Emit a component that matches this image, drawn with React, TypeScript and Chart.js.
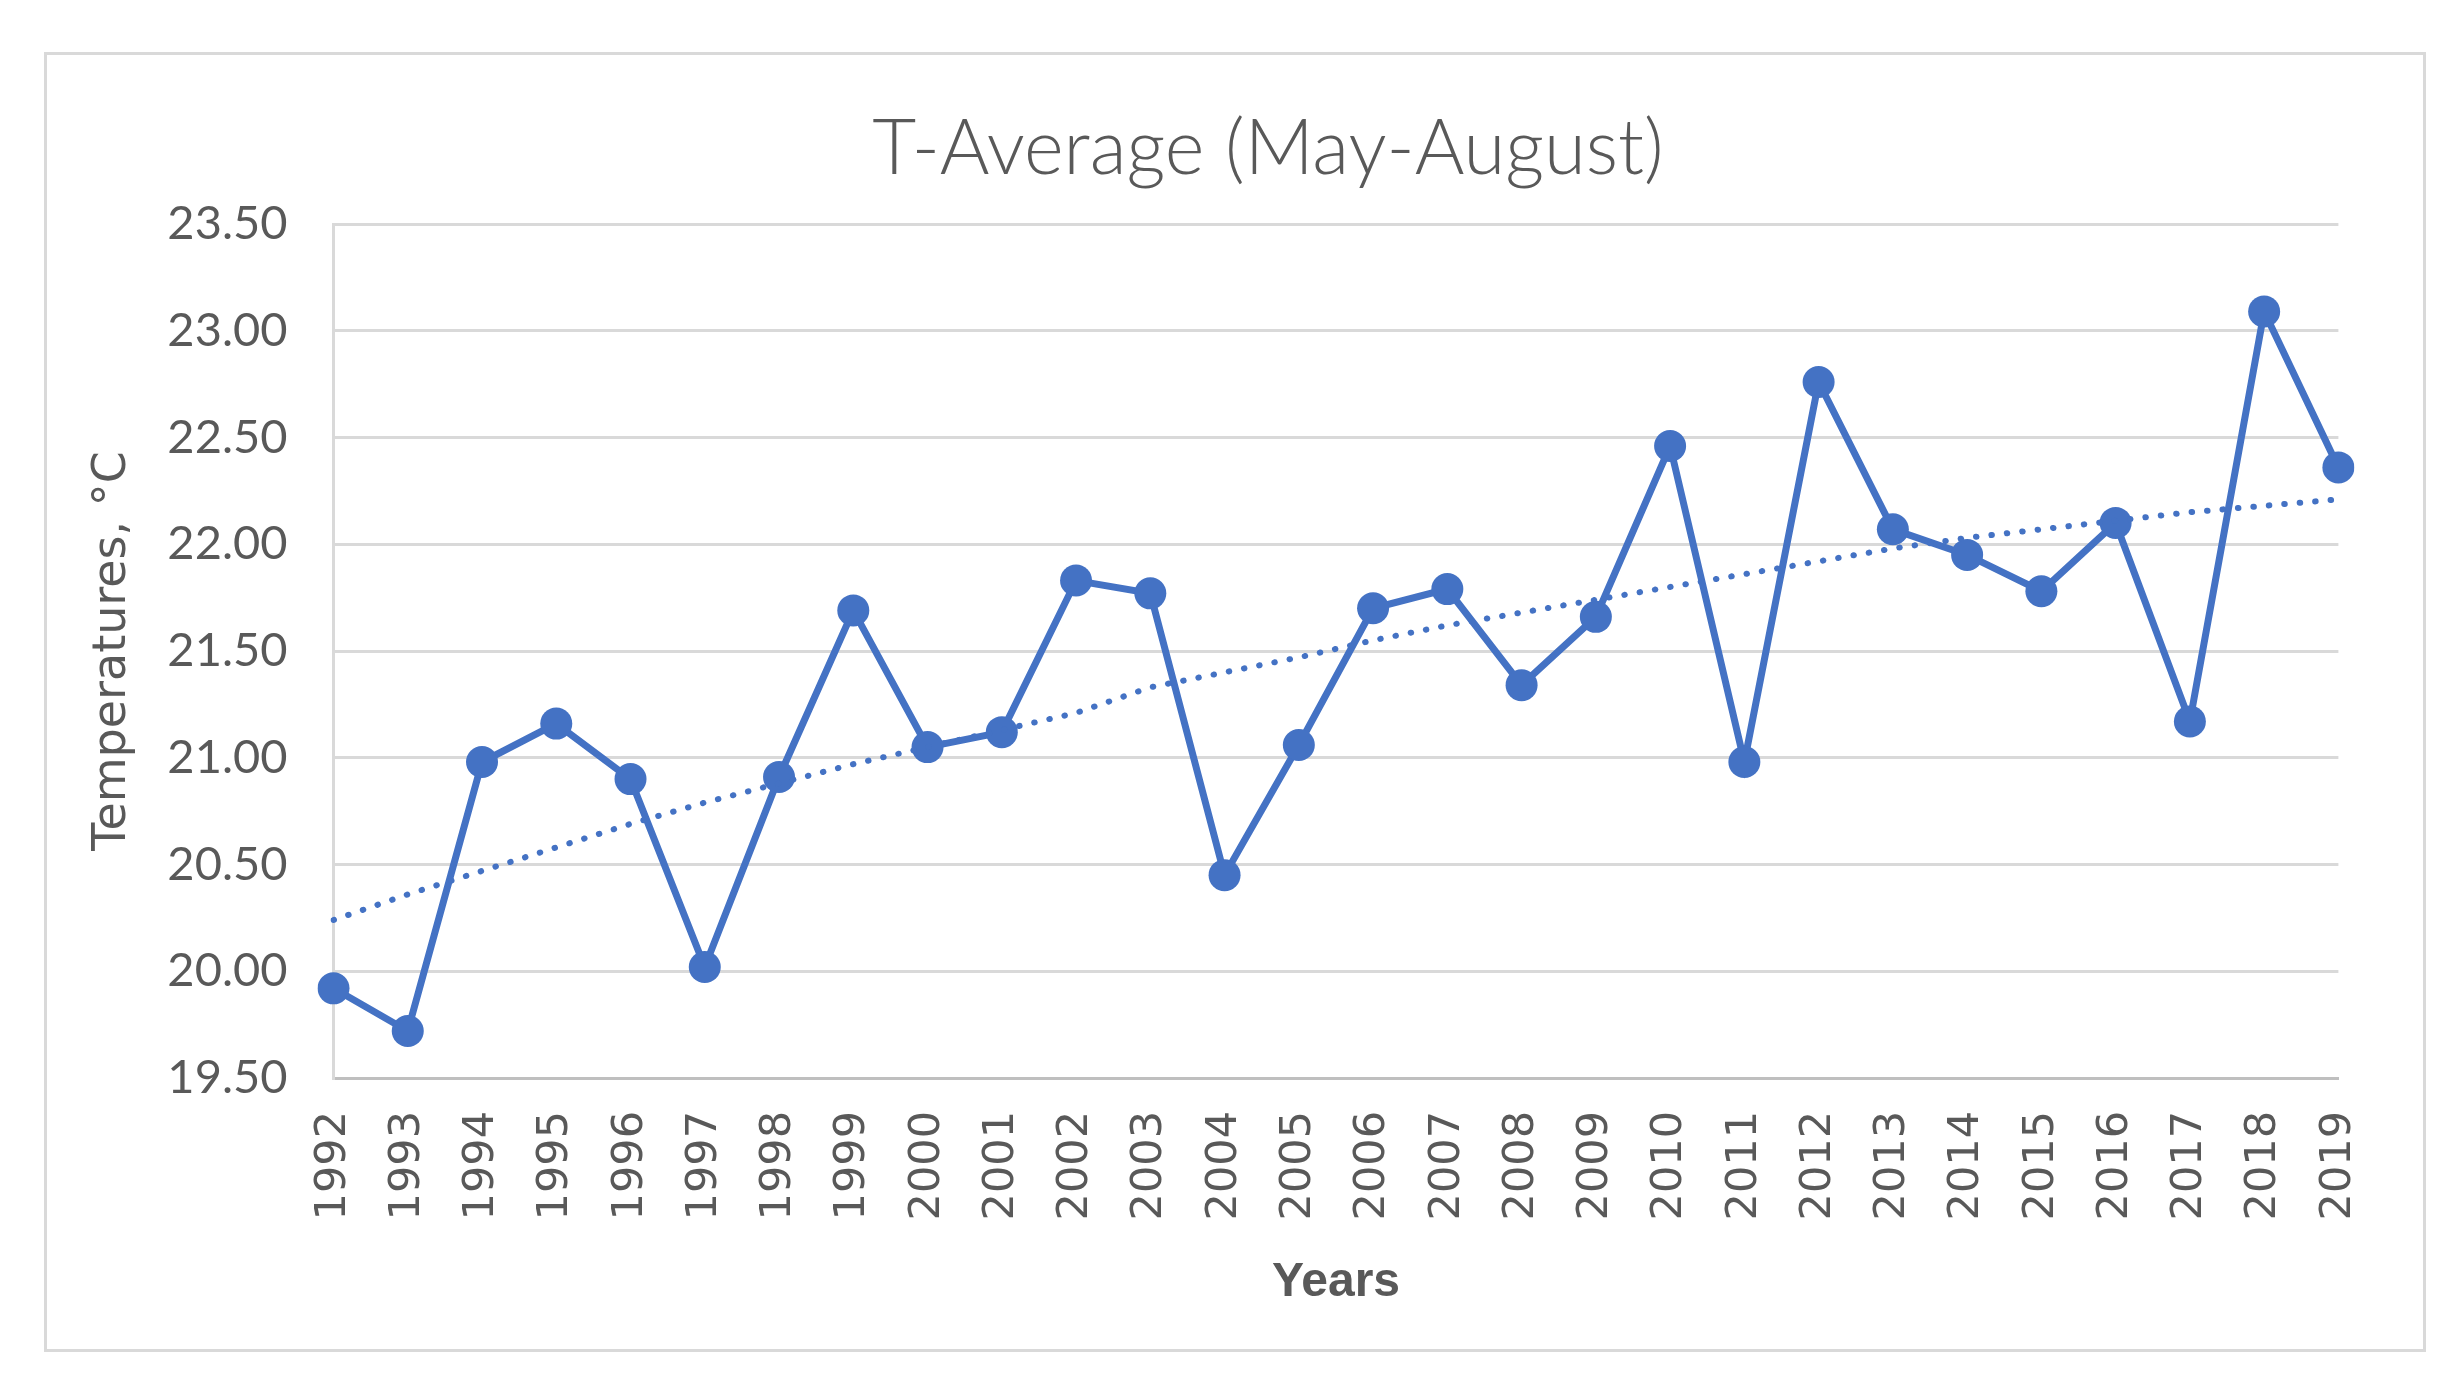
import React, { useEffect, useRef } from "react";
import { Chart, registerables } from "chart.js";

Chart.register(...registerables);

const years = [
  "1992", "1993", "1994", "1995", "1996", "1997", "1998", "1999", "2000", "2001",
  "2002", "2003", "2004", "2005", "2006", "2007", "2008", "2009", "2010", "2011",
  "2012", "2013", "2014", "2015", "2016", "2017", "2018", "2019",
];

const tAverage = [
  19.92, 19.72, 20.98, 21.16, 20.9, 20.02, 20.91, 21.69, 21.05, 21.12,
  21.83, 21.77, 20.45, 21.06, 21.7, 21.79, 21.34, 21.66, 22.46, 20.98,
  22.76, 22.07, 21.95, 21.78, 22.1, 21.17, 23.09, 22.36,
];

const trend = [
  20.24, 20.36, 20.47, 20.58, 20.69, 20.79, 20.88, 20.97, 21.05, 21.13,
  21.21, 21.33, 21.4, 21.47, 21.55, 21.62, 21.68, 21.74, 21.8, 21.86,
  21.92, 21.98, 22.03, 22.07, 22.11, 22.15, 22.18, 22.21,
];

const yMin = 19.5;
const yMax = 23.5;
const yStep = 0.5;

const chartTitle = "T-Average (May-August)";
const xTitle = "Years";
const yTitle = "Temperatures, °C";

const BLUE = "#4472C4";
const TEXT = "#595959";
const GRID = "#D9D9D9";

const CW = 2376;
const CH = 1294;
const PAD_LEFT = 66;
const PLOT_LEFT = 286.5;
const PLOT_BOTTOM = 1023;
const RIGHT_GAP = 80;

export default function App() {
  const ref = useRef<HTMLCanvasElement | null>(null);

  useEffect(() => {
    if (!ref.current) return;
    const chart = new Chart(ref.current, {
      type: "line",
      data: {
        labels: years,
        datasets: [
          {
            label: "Linear (T-Average)",
            data: trend,
            borderColor: BLUE,
            borderWidth: 6,
            borderDash: [0.5, 15],
            borderCapStyle: "round",
            pointRadius: 0,
            pointHoverRadius: 0,
            fill: false,
            tension: 0,
            order: 0,
          },
          {
            label: "T-Average",
            data: tAverage,
            borderColor: BLUE,
            backgroundColor: BLUE,
            borderWidth: 7,
            pointRadius: 16,
            pointHoverRadius: 16,
            pointBackgroundColor: BLUE,
            pointBorderColor: BLUE,
            pointBorderWidth: 0,
            fill: false,
            tension: 0,
            order: 1,
          },
        ],
      },
      options: {
        animation: false,
        responsive: false,
        devicePixelRatio: 1,
        layout: { padding: { left: PAD_LEFT, right: 0, top: 0, bottom: 0 } },
        plugins: {
          legend: { display: false },
          tooltip: { enabled: false },
          title: {
            display: true,
            text: chartTitle,
            color: TEXT,
            font: { family: "Lato", size: 76, weight: "300", lineHeight: 1 },
            padding: { top: 56, bottom: 37 },
          },
        },
        scales: {
          x: {
            type: "category",
            offset: false,
            grid: { display: false, drawTicks: false },
            border: { display: true, color: "#BFBFBF", width: 3 },
            ticks: {
              autoSkip: false,
              minRotation: 90,
              maxRotation: 90,
              padding: 33,
              color: TEXT,
              font: { family: "DejaVu Sans", size: 43 },
            },
            title: {
              display: true,
              text: xTitle,
              color: TEXT,
              font: { family: "Liberation Sans", size: 48, weight: "bold", lineHeight: 1.2 },
              padding: { top: 0, bottom: 37 },
            },
            afterFit: (scale: any) => {
              scale.height = CH - PLOT_BOTTOM;
            },
          },
          y: {
            position: "left",
            min: yMin,
            max: yMax,
            grid: { color: GRID, lineWidth: 3, drawTicks: false },
            border: { display: true, color: GRID, width: 3 },
            ticks: {
              stepSize: yStep,
              padding: 46,
              color: TEXT,
              font: { family: "Lato", size: 47 },
              callback: (v: any) => Number(v).toFixed(2),
            },
            title: {
              display: true,
              text: yTitle,
              color: TEXT,
              font: { family: "DejaVu Sans", size: 46, lineHeight: 1.2 },
              padding: { top: -27.6, bottom: 0 },
            },
            afterFit: (scale: any) => {
              scale.width = PLOT_LEFT - PAD_LEFT;
            },
          },
          gap: {
            type: "linear",
            position: "right",
            display: true,
            grid: { display: false, drawTicks: false },
            border: { display: false },
            ticks: { display: false },
            afterFit: (scale: any) => {
              scale.width = RIGHT_GAP;
            },
          },
        },
      },
    });
    return () => chart.destroy();
  }, []);

  return (
    <div
      style={{
        position: "absolute",
        left: 0,
        top: 0,
        width: 2446,
        height: 1381,
        background: "#ffffff",
        overflow: "hidden",
      }}
    >
      <div
        style={{
          position: "absolute",
          left: 44,
          top: 52,
          width: 2382,
          height: 1300,
          boxSizing: "border-box",
          border: `3px solid ${GRID}`,
          background: "#ffffff",
        }}
      >
        <canvas
          ref={ref}
          width={CW}
          height={CH}
          style={{ position: "absolute", left: 0, top: 0, width: CW, height: CH }}
        />
      </div>
    </div>
  );
}
